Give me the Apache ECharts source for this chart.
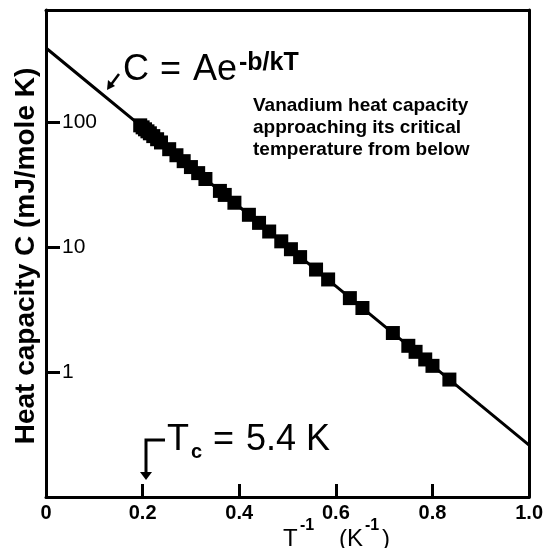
<!DOCTYPE html>
<html>
<head>
<meta charset="utf-8">
<script src="https://cdn.jsdelivr.net/npm/echarts@6/dist/echarts.min.js"></script>
<style>html,body{margin:0;padding:0;background:#fff;}#c{width:546px;height:548px;}</style>
</head>
<body>
<div id="c"></div>
<script>
// Fitted curve C = A e^(-b/kT)
var lineX = [0, 0.1, 0.2, 0.3, 0.4, 0.5, 0.6, 0.7, 0.8, 0.9, 1.0];
var lineC = [391, 188, 90.5, 43.6, 21.0, 10.1, 4.86, 2.34, 1.125, 0.54, 0.26];
// Measured points (square markers)
var sqX = [0.195, 0.200, 0.205, 0.210, 0.215, 0.222, 0.230, 0.238, 0.255, 0.270, 0.285, 0.300, 0.315, 0.330, 0.360, 0.370, 0.390, 0.420, 0.441, 0.462, 0.487, 0.507, 0.526, 0.559, 0.584, 0.629, 0.655, 0.718, 0.750, 0.765, 0.785, 0.800, 0.835];
var sqC = [94.0, 90.6, 87.4, 84.2, 81.2, 77.1, 72.8, 68.6, 60.6, 54.2, 48.6, 43.6, 39.0, 35.0, 28.1, 26.1, 22.6, 18.1, 15.6, 13.3, 11.1, 9.6, 8.3, 6.6, 5.5, 3.9, 3.25, 2.05, 1.62, 1.45, 1.26, 1.12, 0.87];
var xTickLabels = ['0', '0.2', '0.4', '0.6', '0.8', '1.0'];
var yTicks = [1, 10, 100];
var xMin = 0, xMax = 1, yMin = 0.1, yMax = 787;

var chart = echarts.init(document.getElementById('c'), null, {renderer: 'canvas'});
var lineData = lineX.map(function (x, i) { return [x, lineC[i]]; });
var sqData = sqX.map(function (x, i) { return [x, sqC[i]]; });
var F = '"Liberation Sans", Arial, sans-serif';
var frameAxis = {axisLine: {show: true, onZero: false, lineStyle: {color: '#000', width: 3}}, axisTick: {show: false}, axisLabel: {show: false}, splitLine: {show: false}};

chart.setOption({
  animation: false,
  backgroundColor: '#fff',
  grid: {left: 46, right: 14, top: 10, bottom: 51},
  xAxis: [{
    type: 'value', min: xMin, max: xMax, interval: 0.2, position: 'bottom',
    axisLine: {show: true, onZero: false, lineStyle: {color: '#000', width: 3}},
    axisTick: {show: true, inside: true, length: 13, lineStyle: {color: '#000', width: 3}},
    splitLine: {show: false},
    axisLabel: {
      color: '#000', fontSize: 20, fontWeight: 'bold', fontFamily: F, margin: 6,
      formatter: function (v) { return xTickLabels[Math.round(v * 5)]; }
    }
  }, Object.assign({type: 'value', min: xMin, max: xMax, position: 'top'}, frameAxis)],
  yAxis: [{
    type: 'log', logBase: 10, min: yMin, max: yMax, position: 'left',
    axisLine: {show: true, onZero: false, lineStyle: {color: '#000', width: 3}},
    axisTick: {show: true, inside: true, length: 14, lineStyle: {color: '#000', width: 3}, customValues: yTicks},
    splitLine: {show: false},
    minorTick: {show: false},
    axisLabel: {
      inside: true, margin: 16, color: '#000', fontSize: 21, fontFamily: F,
      customValues: yTicks,
      formatter: function (v) { return String(Math.round(v)); }
    }
  }, Object.assign({type: 'value', min: 0, max: 1, position: 'right'}, frameAxis)],
  series: [
    {type: 'line', data: lineData, symbol: 'none', lineStyle: {color: '#000', width: 3}, z: 2},
    {type: 'scatter', data: sqData, symbol: 'rect', symbolSize: 14, itemStyle: {color: '#000', opacity: 1}, z: 3}
  ],
  graphic: [
    {type: 'text', x: 26, y: 256, rotation: Math.PI / 2,
      style: {text: 'Heat capacity C (mJ/mole K)', font: 'bold 28px ' + F, fill: '#000', align: 'center', verticalAlign: 'middle'}},
    {type: 'text', style: {text: 'T', x: 283, y: 539, font: '24px ' + F, fill: '#000', verticalAlign: 'middle'}},
    {type: 'text', style: {text: '-1', x: 300, y: 526, font: 'bold 16px ' + F, fill: '#000', verticalAlign: 'middle'}},
    {type: 'text', style: {text: '(K', x: 339, y: 539, font: '24px ' + F, fill: '#000', verticalAlign: 'middle'}},
    {type: 'text', style: {text: '-1', x: 365, y: 526, font: 'bold 16px ' + F, fill: '#000', verticalAlign: 'middle'}},
    {type: 'text', style: {text: ')', x: 382, y: 539, font: '24px ' + F, fill: '#000', verticalAlign: 'middle'}},
    // formula
    {type: 'text', style: {text: 'C', x: 123, y: 70, font: '36px ' + F, fill: '#000', verticalAlign: 'middle'}},
    {type: 'text', style: {text: '=', x: 160, y: 70, font: '36px ' + F, fill: '#000', verticalAlign: 'middle'}},
    {type: 'text', style: {text: 'Ae', x: 193, y: 70, font: '36px ' + F, fill: '#000', verticalAlign: 'middle'}},
    {type: 'text', style: {text: '-b/kT', x: 239, y: 63, font: 'bold 25px ' + F, fill: '#000', verticalAlign: 'middle'}},
    {type: 'polyline', shape: {points: [[119, 74], [110, 86]]}, style: {stroke: '#000', lineWidth: 2.5, fill: null}},
    {type: 'polygon', shape: {points: [[107, 90], [108, 80], [115, 86]]}, style: {fill: '#000'}},
    // note
    {type: 'text', style: {text: 'Vanadium heat capacity\napproaching its critical\ntemperature from below', x: 253, y: 95, font: 'bold 19px ' + F, lineHeight: 22, fill: '#000'}},
    // Tc
    {type: 'polyline', shape: {points: [[165, 440], [146, 440], [146, 474]]}, style: {stroke: '#000', lineWidth: 3, fill: null}},
    {type: 'polygon', shape: {points: [[140, 472], [152, 472], [146, 480]]}, style: {fill: '#000'}},
    {type: 'text', style: {text: 'T', x: 167, y: 440, font: '36px ' + F, fill: '#000', verticalAlign: 'middle'}},
    {type: 'text', style: {text: 'c', x: 191, y: 452, font: 'bold 20px ' + F, fill: '#000', verticalAlign: 'middle'}},
    {type: 'text', style: {text: '=', x: 213, y: 440, font: '36px ' + F, fill: '#000', verticalAlign: 'middle'}},
    {type: 'text', style: {text: '5.4 K', x: 246, y: 440, font: '36px ' + F, fill: '#000', verticalAlign: 'middle'}}
  ]
});
</script>
</body>
</html>
